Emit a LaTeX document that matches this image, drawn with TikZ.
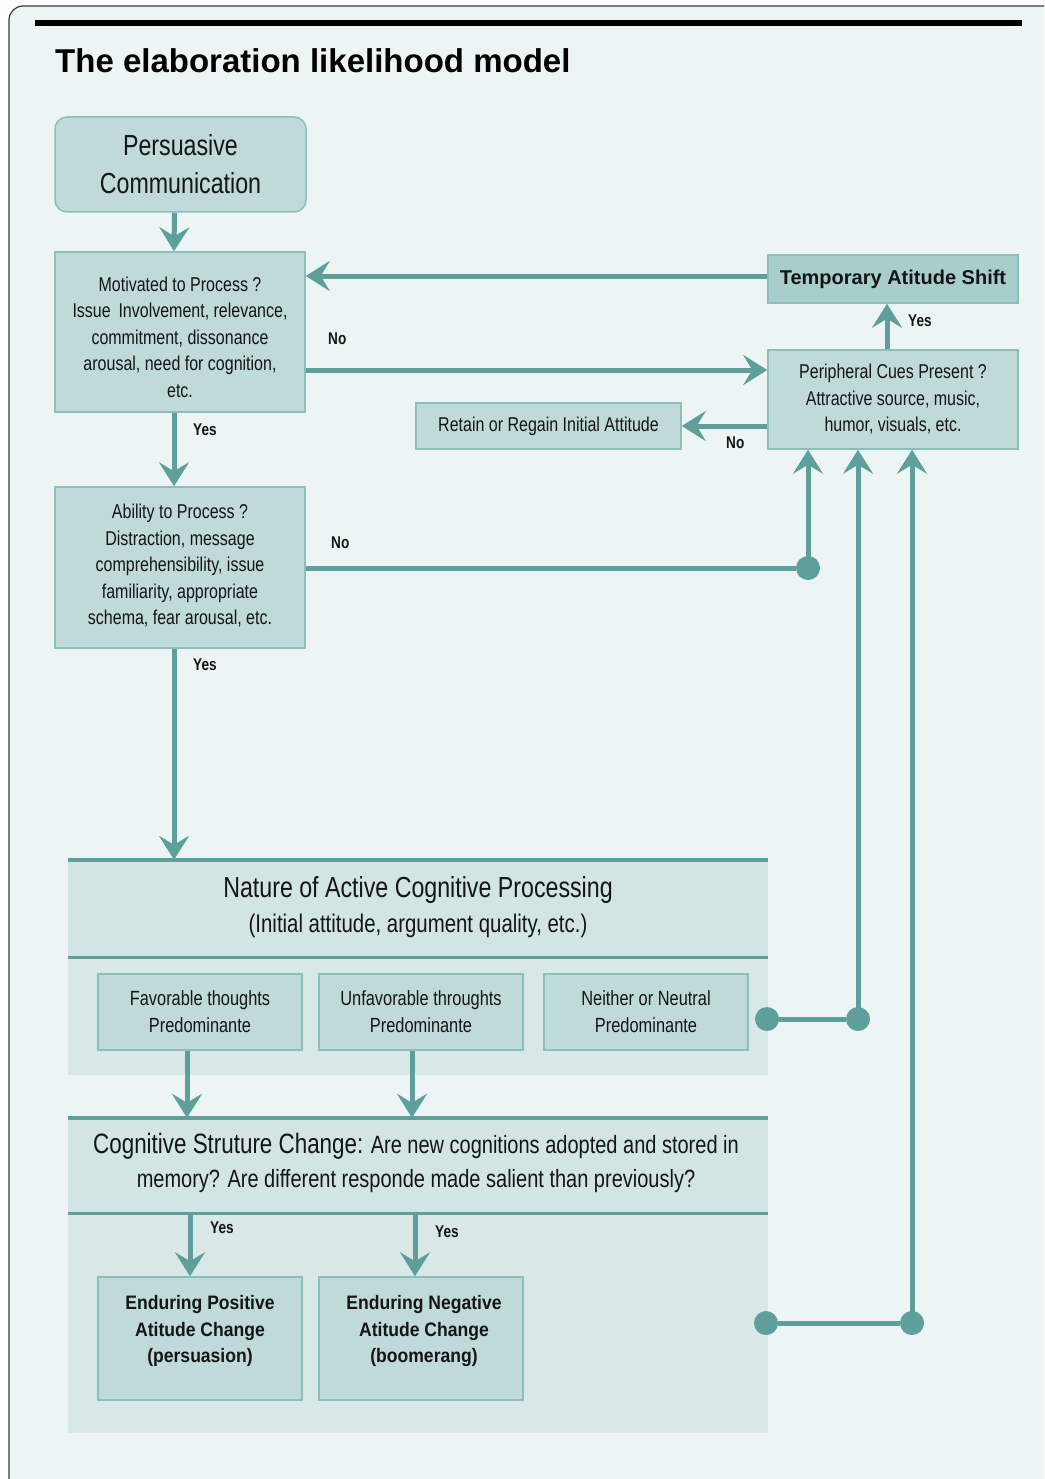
\documentclass[tikz,border=0pt]{standalone}
\usepackage{fontspec}
\setmainfont{Liberation Sans}
\newfontfamily\nar[FakeStretch=0.8]{Liberation Sans}
\newfontfamily\narb[FakeStretch=0.9]{Liberation Sans}
\usetikzlibrary{arrows.meta,calc}
\definecolor{bg}{HTML}{EDF5F4}
\definecolor{frame}{HTML}{3A3A3A}
\definecolor{boxfill}{HTML}{BFDAD9}
\definecolor{boxline}{HTML}{8CBFBC}
\definecolor{tempfill}{HTML}{A8CECC}
\definecolor{panhead}{HTML}{D2E4E3}
\definecolor{panbody}{HTML}{D8E8E7}
\definecolor{teal1}{HTML}{5E9E9B}
\definecolor{txt}{HTML}{151515}
\begin{document}
\begin{tikzpicture}[x=1pt,y=-1pt,
  box/.style={draw=boxline,line width=1.5pt,fill=boxfill,align=center,inner sep=0pt,text=txt,
    font=\nar\fontsize{20}{26.5}\selectfont},
  conn/.style={draw=teal1,line width=5pt},
  arr/.style={conn,-{Stealth[length=24pt,width=30pt,inset=9pt]}},
  lbl/.style={font=\nar\bfseries\fontsize{17}{19}\selectfont,text=txt,inner sep=0pt},
  dot/.style={circle,fill=teal1,inner sep=0pt,minimum size=24pt},
  panel/.style={fill=panbody,inner sep=0pt}]
\useasboundingbox (0,0) rectangle (1044,1479);
\fill[white] (0,0) rectangle (1044,1479);
\begin{scope}
  \clip (0,0) rectangle (1044,1479);
  \draw[draw=frame,fill=bg,line width=1.2pt,rounded corners=14pt] (9,6) rectangle (1090,1530);
\end{scope}
\draw[line width=6pt,black] (35,23) -- (1022,23);
\node[anchor=base west,inner sep=0pt,font=\bfseries\fontsize{33}{36}\selectfont] (title) at (55,73) {The elaboration likelihood model};

% left column
\node[box,rounded corners=12pt,minimum width=251pt,minimum height=95pt,
      font=\nar\fontsize{29}{38}\selectfont] (pc) at (180.5,164.5) {Persuasive\\Communication};
\node[box,minimum width=250pt,minimum height=160pt] (mot) at (180,332) {};
\node[align=center,inner sep=0pt,text=txt,font=\nar\fontsize{20}{26.5}\selectfont] (motT) at (180,337)
  {Motivated to Process ?\\Issue \,Involvement, relevance,\\commitment, dissonance\\arousal, need for cognition,\\etc.};
\node[box,minimum width=250pt,minimum height=161pt] (abl) at (180,567.5) {};
\node[align=center,inner sep=0pt,text=txt,font=\nar\fontsize{20}{26.5}\selectfont] (ablT) at (180,566)
  {Ability to Process ?\\Distraction, message\\comprehensibility, issue\\familiarity, appropriate\\schema, fear arousal, etc.};

% right column
\node[box,fill=tempfill,minimum width=250pt,minimum height=48pt,
      font=\bfseries\fontsize{20}{24}\selectfont] (temp) at (893,279) {Temporary Atitude Shift};
\node[box,minimum width=250pt,minimum height=99pt] (peri) at (893,399.5)
  {Peripheral Cues Present ?\\Attractive source, music,\\humor, visuals, etc.};
\node[box,minimum width=265pt,minimum height=46pt] (ret) at (548.5,426) {Retain or Regain Initial Attitude};

% panel: nature of processing
\node[panel,minimum width=700pt,minimum height=215pt] (nat) at (418,967.5) {};
\fill[panhead] (68,860) rectangle (768,957);
\draw[teal1,line width=4pt] (68,860) -- (768,860);
\draw[teal1,line width=3pt] (68,957) -- (768,957);
\node[align=center,inner sep=0pt,text=txt,font=\nar\fontsize{25.5}{35}\selectfont] (natT) at (418,907)
  {{\fontsize{29}{35}\selectfont Nature of Active Cognitive Processing}\\(Initial attitude, argument quality, etc.)};
\node[box,minimum width=204pt,minimum height=76pt,font=\nar\fontsize{20.5}{27}\selectfont] (fav) at (200,1012) {Favorable thoughts\\Predominante};
\node[box,minimum width=204pt,minimum height=76pt,font=\nar\fontsize{20.5}{27}\selectfont] (unf) at (421,1012) {Unfavorable throughts\\Predominante};
\node[box,minimum width=204pt,minimum height=76pt,font=\nar\fontsize{20.5}{27}\selectfont] (nei) at (646,1012) {Neither or Neutral\\Predominante};

% panel: cognitive structure change
\node[panel,minimum width=700pt,minimum height=315pt] (cog) at (418,1275.5) {};
\fill[panhead] (68,1118) rectangle (768,1213);
\draw[teal1,line width=4pt] (68,1118) -- (768,1118);
\draw[teal1,line width=3pt] (68,1213) -- (768,1213);
\node[align=center,inner sep=0pt,text=txt,font=\nar\fontsize{25}{34}\selectfont] (cogT) at (416,1163)
  {{\fontsize{28}{34}\selectfont Cognitive Struture Change:} Are new cognitions adopted and stored in\\memory? Are different responde made salient than previously?};
\node[box,minimum width=204pt,minimum height=123pt] (epos) at (200,1338.5) {};
\node[align=center,inner sep=0pt,text=txt,font=\narb\bfseries\fontsize{19.5}{26.5}\selectfont] (eposT) at (200,1331)
  {Enduring Positive\\Atitude Change\\(persuasion)};
\node[box,minimum width=204pt,minimum height=123pt] (eneg) at (421,1338.5) {};
\node[align=center,inner sep=0pt,text=txt,font=\narb\bfseries\fontsize{19.5}{26.5}\selectfont] (enegT) at (424,1331)
  {Enduring Negative\\Atitude Change\\(boomerang)};

% connectors: left column
\draw[arr] ($(pc.south)+(-6,0)$) -- ($(mot.north)+(-6,0)$);
\draw[arr] ($(mot.south)+(-6,0)$) -- ($(abl.north)+(-6,0)$);
\node[lbl,anchor=west] (y1) at (193,430) {Yes};
\coordinate (a3) at ($(abl.south)+(-6,0)$);
\draw[arr] (a3) -- (a3 |- nat.north);
\node[lbl,anchor=west] (y2) at (193,665) {Yes};
\coordinate (a4) at ($(fav.south)+(-13,0)$);
\draw[arr] (a4) -- (a4 |- cog.north);
\coordinate (a5) at ($(unf.south)+(-9,0)$);
\draw[arr] (a5) -- (a5 |- cog.north);
\coordinate (a6) at (190,1213);
\draw[arr] (a6) -- (a6 |- epos.north);
\node[lbl,anchor=west] (y3) at (210,1228) {Yes};
\coordinate (a7) at (415,1213);
\draw[arr] (a7) -- (a7 |- eneg.north);
\node[lbl,anchor=west] (y4) at (435,1232) {Yes};

% connectors: right side
\draw[arr] (temp.west |- 0,276) -- (mot.east |- 0,276);
\draw[arr] (mot.east |- 0,370) -- (peri.west |- 0,370);
\node[lbl,anchor=west] (n1) at (328,339) {No};
\draw[arr] (peri.north -| 887,0) -- (temp.south -| 887,0);
\node[lbl,anchor=west] (y5) at (908,321) {Yes};
\draw[arr] (peri.west |- ret.east) -- (ret.east);
\node[lbl,anchor=west] (n2) at (726,443) {No};

\node[dot] (d1) at (808,568) {};
\draw[conn] (abl.east |- d1) -- (d1);
\draw[arr] (d1.center) -- (d1 |- peri.south);
\node[lbl,anchor=west] (n3) at (331,543) {No};

\node[dot] (d2) at (767,1019) {};
\node[dot] (d3) at (858,1019) {};
\draw[conn] (d2) -- (d3);
\draw[arr] (d3.center) -- (d3 |- peri.south);

\node[dot] (d4) at (766,1323) {};
\node[dot] (d5) at (912,1323) {};
\draw[conn] (d4) -- (d5);
\draw[arr] (d5.center) -- (d5 |- peri.south);
\end{tikzpicture}
\end{document}
